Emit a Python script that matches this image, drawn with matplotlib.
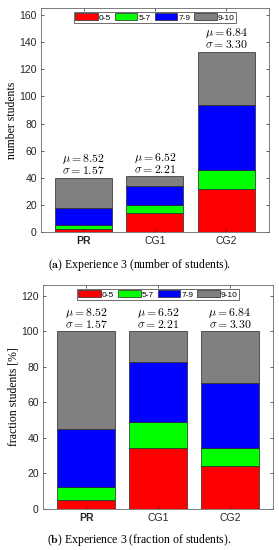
import numpy as np
import matplotlib
matplotlib.use("Agg")
import matplotlib.pyplot as plt

plt.rcParams['mathtext.fontset'] = 'cm'
plt.rcParams['font.family'] = 'Liberation Sans'

groups = ['PR', 'CG1', 'CG2']
bins = ['0-5', '5-7', '7-9', '9-10']
colors = ['#ff0000', '#00ff00', '#0000ff', '#808080']

# number of students per grade bin
counts_05 = [2, 14, 32]
counts_57 = [3, 6, 14]
counts_79 = [13, 14, 48]
counts_910 = [22, 7, 39]

means = [8.52, 6.52, 6.84]
stds = [1.57, 2.21, 3.30]

counts = np.array([counts_05, counts_57, counts_79, counts_910], dtype=float)
totals = counts.sum(axis=0)
fractions = counts / totals * 100

fig = plt.figure(figsize=(2.79, 5.5), dpi=100)
ax1 = fig.add_axes([0.147, 0.578, 0.817, 0.407])
ax2 = fig.add_axes([0.154, 0.0745, 0.825, 0.407])

x = np.arange(1, 4)


def draw(ax, data, ymax, ylabel, yticks):
    bottom = np.zeros(3)
    for i in range(4):
        ax.bar(x, data[i], 0.8, bottom=bottom, color=colors[i],
               edgecolor='0.15', linewidth=0.5, label=bins[i])
        bottom += data[i]
    for j in range(3):
        ax.annotate(r'$\mu = %.2f$' % means[j] + '\n' + r'$\sigma = %.2f$' % stds[j],
                    (x[j], bottom[j]), xytext=(0, 0.5), textcoords='offset points',
                    ha='center', va='bottom', fontsize=8.5, linespacing=0.9)
    ax.set_xlim(0.4, 3.6)
    ax.set_ylim(0, ymax)
    ax.set_yticks(yticks)
    ax.set_xticks(x)
    ax.set_xticklabels(groups, fontsize=7.5)
    ax.get_xticklabels()[0].set_fontweight('bold')
    ax.tick_params(direction='in', top=True, right=True, length=2.5, width=0.5,
                   labelsize=7.5, colors='0.15', pad=3)
    for sp in ax.spines.values():
        sp.set_color('0.4')
        sp.set_linewidth(0.6)
    ax.set_ylabel(ylabel, family='Liberation Serif', fontsize=8.5, labelpad=1)
    leg = ax.legend(ncol=4, loc='upper center', fontsize=6, handlelength=2.7,
                    handleheight=0.9, handletextpad=0.15, columnspacing=0.45,
                    borderpad=0.2, borderaxespad=0.4, fancybox=False,
                    edgecolor='0.2', framealpha=1)
    leg.get_frame().set_linewidth(0.5)


draw(ax1, counts, 165, 'number students', np.arange(0, 161, 20))
draw(ax2, fractions, 126, 'fraction students [%]', np.arange(0, 121, 20))

fig.text(0.5, 0.518, r'($\mathbf{a}$) Experience 3 (number of students).',
         ha='center', va='center', fontsize=8.5, family='Liberation Serif')
fig.text(0.5, 0.018, r'($\mathbf{b}$) Experience 3 (fraction of students).',
         ha='center', va='center', fontsize=8.5, family='Liberation Serif')

fig.savefig('out.png', dpi=100)
